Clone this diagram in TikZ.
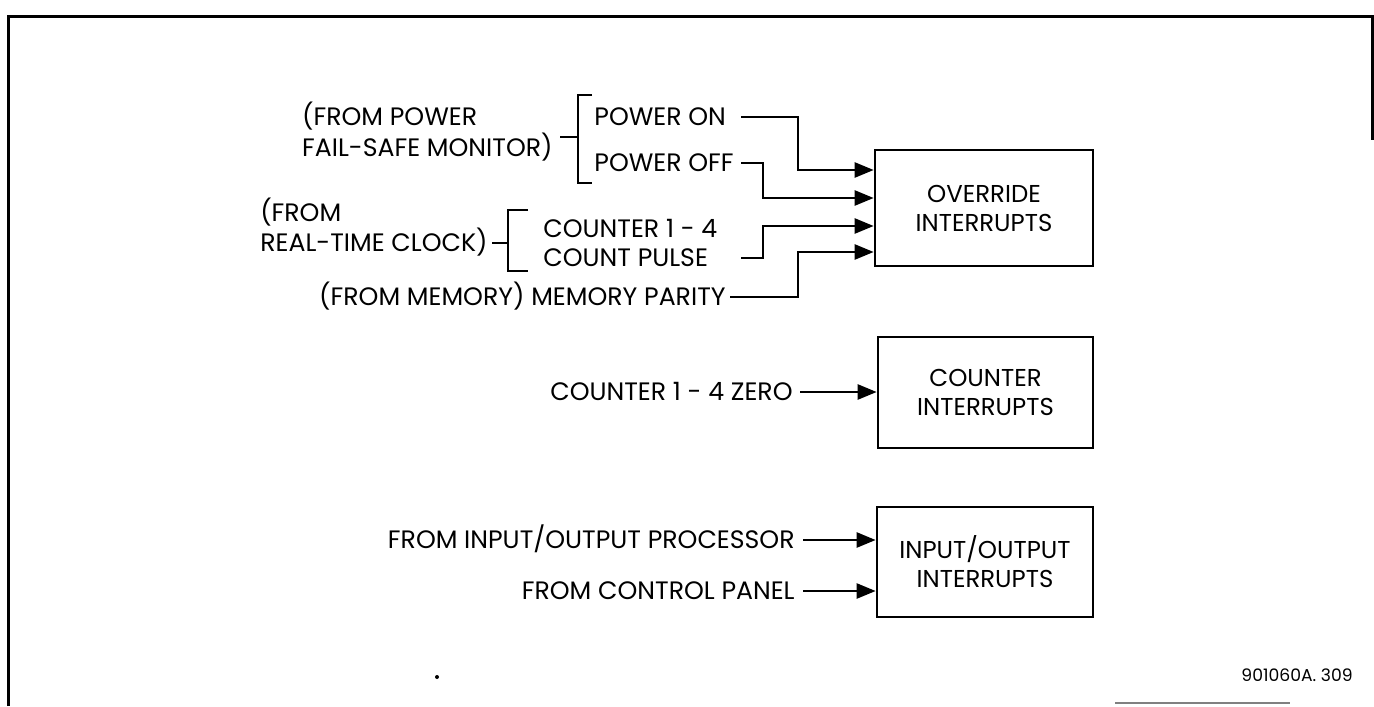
\documentclass[tikz,border=0pt]{standalone}
\usepackage{fontspec}
\setmainfont{Poppins}
\usetikzlibrary{arrows.meta}
\begin{document}
\begin{tikzpicture}[x=0.5pt,y=-0.5pt,
  lbl/.style={inner sep=0pt, text height=8.8pt, text depth=0pt, font=\fontsize{12.6}{15}\selectfont},
  box/.style={draw, line width=1.35pt, inner sep=0pt, align=center, font=\fontsize{12.2}{14.5}\selectfont},
  wire/.style={line width=1.25pt},
  arr/.style={wire, -{Triangle[length=9.5pt,width=7.5pt]}},
  brk/.style={line width=1.2pt}
]
\useasboundingbox (0,0) rectangle (1374,706);
% frame
\draw[line width=1.5pt] (8,706) -- (8,17) -- (1372,17) -- (1372,140);
\draw[line width=0.8pt, gray] (1115,703) -- (1290,703);
\fill (437,677) circle (2);

% boxes
\node[box, minimum width=109pt, minimum height=58pt] (ovr) at (984,208) {OVERRIDE\\INTERRUPTS};
\node[box, minimum width=107.5pt, minimum height=55.5pt] (cnt) at (985.5,392.5) {COUNTER\\INTERRUPTS};
\node[box, minimum width=108pt, minimum height=55pt] (io) at (985,562) {INPUT/OUTPUT\\INTERRUPTS};

% power group
\node[lbl, anchor=east] (fp2) at (553,148) {FAIL-SAFE MONITOR)};
\node[lbl, anchor=west] (fp1) at (fp2.west |- 0,117) {(FROM POWER};
\draw[brk] (592,95) -- (578,95) -- (578,183) -- (592,183);
\draw[brk] (560,137) -- (578,137);
\node[lbl, anchor=west] (pon) at (594,117) {POWER ON};
\node[lbl, anchor=west] (poff) at (594,163) {POWER OFF};

% clock group
\node[lbl, anchor=east] (fc2) at (488,243) {REAL-TIME CLOCK)};
\node[lbl, anchor=west] (fc1) at (fc2.west |- 0,213) {(FROM};
\draw[brk] (528,210) -- (508,210) -- (508,271) -- (528,271);
\draw[brk] (492,243) -- (508,243);
\node[lbl, anchor=west] (c14) at (543,229) {COUNTER 1 - 4};
\node[lbl, anchor=west] (cp) at (543,258) {COUNT PULSE};

% memory
\node[lbl, anchor=east] (mp) at (726,297) {(FROM MEMORY) MEMORY PARITY};

\coordinate (ls) at (741,0);
\coordinate (v1) at (798,0);
\coordinate (v2) at (763,0);

\draw[arr] (pon.east -| ls) -- (pon.east -| v1) |- (ovr.west |- 0,170);
\draw[arr] (poff.east -| ls) -- (poff.east -| v2) |- (ovr.west |- 0,198);
\draw[arr] (cp.east -| ls) -- (cp.east -| v2) |- (ovr.west |- 0,226);
\draw[arr] ([xshift=2pt]mp.east) -- (mp.east -| v1) |- (ovr.west |- 0,252);

% counter zero
\node[lbl, anchor=east] (zero) at (793,392) {COUNTER 1 - 4 ZERO};
\draw[arr] ([xshift=3.5pt]zero.east) -- (cnt.west |- zero.east);

% io
\node[lbl, anchor=east] (iop) at (795,540) {FROM INPUT/OUTPUT PROCESSOR};
\node[lbl, anchor=east] (cpl) at (795,591) {FROM CONTROL PANEL};
\draw[arr] ([xshift=4pt]iop.east) -- (io.west |- iop.east);
\draw[arr] ([xshift=4pt]cpl.east) -- (io.west |- cpl.east);

\node[lbl, anchor=west, text height=6pt, font=\fontsize{8.6}{11}\selectfont] (num) at (1241,675) {901060A. 309};
\end{tikzpicture}
\end{document}
